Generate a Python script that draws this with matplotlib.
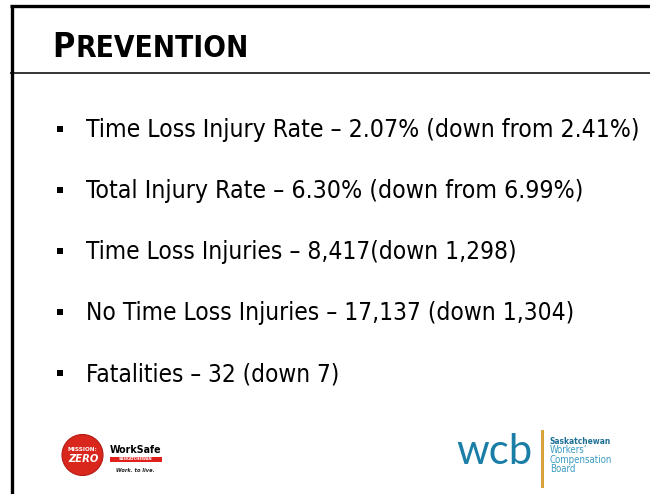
import matplotlib
matplotlib.use("Agg")
import matplotlib.pyplot as plt
from matplotlib.patches import Rectangle, Circle

# ---- slide content ----
title_first = "P"
title_rest = "REVENTION"
metrics = ["Time Loss Injury Rate", "Total Injury Rate", "Time Loss Injuries",
           "No Time Loss Injuries", "Fatalities"]
current = ["2.07%", "6.30%", "8,417", "17,137", "32"]
change = ["(down from 2.41%)", "(down from 6.99%)", "(down 1,298)",
          "(down 1,304)", "(down 7)"]
separators = [" ", " ", "", " ", " "]
wcb_lines = ["Saskatchewan", "Workers\u2019", "Compensation", "Board"]

W, H = 650, 494
fig = plt.figure(figsize=(W / 100, H / 100), dpi=100)
ax = fig.add_axes([0, 0, 1, 1])
ax.set_xlim(0, W)
ax.set_ylim(H, 0)
ax.axis("off")
fig.patch.set_facecolor("white")
renderer = fig.canvas.get_renderer()

BODY_FONT = dict(family="DejaVu Sans", stretch="condensed")


def width_of(t):
    bb = t.get_window_extent(renderer=renderer)
    return bb.width


def fit_text(x, y, s, target_w, size, **kw):
    t = ax.text(x, y, s, fontsize=size, va="baseline", ha="left", **kw)
    for _ in range(3):
        w = width_of(t)
        if w > 0:
            size = size * target_w / w
            t.set_fontsize(size)
    return t


# ---- frame ----
ax.plot([10, W], [6.5, 6.5], color="black", lw=2.4, solid_capstyle="butt")
ax.plot([11.5, 11.5], [5.3, H], color="black", lw=2.4, solid_capstyle="butt")
ax.plot([10, W], [72.7, 72.7], color="black", lw=1.1, solid_capstyle="butt")

# ---- title (small caps) ----
tp = ax.text(52.5, 57, title_first, fontsize=24.5, fontweight="bold",
             va="baseline", ha="left", **BODY_FONT)
bb = tp.get_window_extent(renderer=renderer)
x_rest = bb.x1 + 0.5
fit_text(x_rest, 57, title_rest, 249 - x_rest, 17.8, fontweight="bold",
         **BODY_FONT)

# ---- bullets ----
base0, step = 137, 61
right_ends = [638, 583, 514, 573, 340]
for i, (m, c, ch, sep) in enumerate(zip(metrics, current, change, separators)):
    yb = base0 + step * i
    ax.add_patch(Rectangle((57, yb - 11), 6.4, 6.4, color="black", lw=0))
    s = f"{m} \u2013 {c}{sep}{ch}"
    fit_text(86, yb, s, right_ends[i] - 86, 18.8, color="black", **BODY_FONT)

# ---- Mission Zero logo ----
ax.add_patch(Circle((82.5, 455), 20.5, facecolor="#d9271d",
                    edgecolor="#b51a12", lw=0.8))
ax.text(82, 449.5, "MISSION:", fontsize=4.6, fontweight="bold", color="white",
        ha="center", va="center", family="DejaVu Sans", stretch="condensed")
ax.text(83, 458.5, "ZERO", fontsize=7.2, fontweight="bold", style="italic",
        color="white", ha="center", va="center", family="DejaVu Sans")

# ---- WorkSafe logo ----
fit_text(110, 453, "WorkSafe", 52, 10, fontweight="bold", color="black",
         family="DejaVu Sans", stretch="condensed")
ax.add_patch(Rectangle((110, 456.5), 52, 5, color="#e0201b", lw=0))
ax.text(136, 459.2, "SASKATCHEWAN", fontsize=2.6, color="white",
        ha="center", va="center", fontweight="bold")
fit_text(116, 472, "Work. to live.", 39, 5.5, style="italic",
         fontweight="bold", color="#222222", family="DejaVu Sans")

# ---- WCB logo ----
fit_text(456, 464, "wcb", 76, 24, color="#1a7ea6", family="Lato",
         fontweight="normal")
ax.add_patch(Rectangle((541.3, 430), 2.2, 58, color="#d7a23a", lw=0))
fit_text(550, 444, wcb_lines[0], 62, 6.5, color="#1d6f96",
         fontweight="bold", family="DejaVu Sans", stretch="condensed")
ax.text(550, 453, wcb_lines[1], fontsize=6.9, color="#3b9cc2",
        va="baseline", family="DejaVu Sans", stretch="condensed")
fit_text(550, 462.5, wcb_lines[2], 62, 6.9, color="#3b9cc2",
         family="DejaVu Sans", stretch="condensed")
ax.text(550, 471.5, wcb_lines[3], fontsize=6.9, color="#3b9cc2",
        va="baseline", family="DejaVu Sans", stretch="condensed")

fig.savefig("out.png", dpi=100, facecolor="white")
